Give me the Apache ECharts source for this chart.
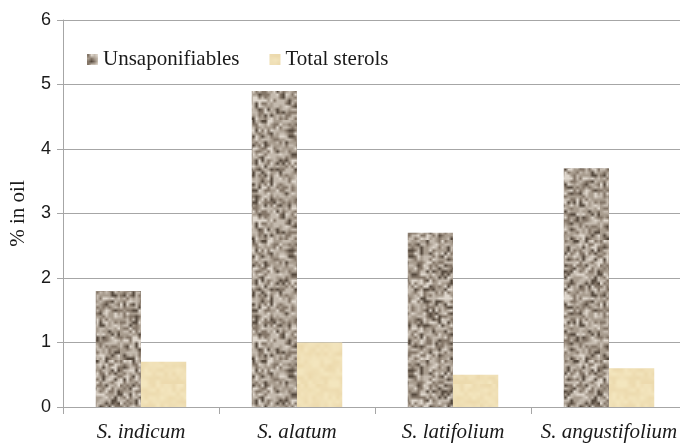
<!DOCTYPE html>
<html>
<head>
<meta charset="utf-8">
<style>
  html, body { margin: 0; padding: 0; background: #fff; }
  #chart { width: 680px; height: 443px; }
</style>
<script src="https://cdn.jsdelivr.net/npm/echarts@6/dist/echarts.min.js"></script>
</head>
<body>
<div id="chart"></div>
<script>
// Species and measured fractions (% of oil)
const species = ['S. indicum', 'S. alatum', 'S. latifolium', 'S. angustifolium'];
const unsaponifiables = [1.8, 4.9, 2.7, 3.7];
const totalSterols = [0.7, 1.0, 0.5, 0.6];
const yTicks = [0, 1, 2, 3, 4, 5, 6];

// Deterministic PRNG for the fill textures
function prng(seed) {
  let s = seed >>> 0;
  return function () {
    s = (s * 1664525 + 1013904223) >>> 0;
    return s / 4294967296;
  };
}

// Speckled granite-like tile: coarse noise drawn small, then upscaled smoothly
function graniteTile() {
  const small = 40, scale = 3;
  const src = document.createElement('canvas');
  src.width = small; src.height = small;
  const sctx = src.getContext('2d');
  const img = sctx.createImageData(small, small);
  const rnd = prng(7);
  for (let i = 0; i < small * small; i++) {
    const t = rnd();
    let r, g, b;
    if (t < 0.12) { r = 86; g = 74; b = 62; }
    else if (t < 0.32) { r = 132; g = 118; b = 104; }
    else if (t < 0.60) { r = 168; g = 156; b = 142; }
    else if (t < 0.86) { r = 196; g = 186; b = 174; }
    else { r = 222; g = 214; b = 204; }
    img.data[i * 4] = r; img.data[i * 4 + 1] = g; img.data[i * 4 + 2] = b; img.data[i * 4 + 3] = 255;
  }
  sctx.putImageData(img, 0, 0);
  const c = document.createElement('canvas');
  c.width = small * scale; c.height = small * scale;
  const ctx = c.getContext('2d');
  ctx.imageSmoothingEnabled = true;
  ctx.drawImage(src, 0, 0, c.width, c.height);
  return c;
}

// Pale parchment tile
function parchmentTile() {
  const small = 24, scale = 4;
  const src = document.createElement('canvas');
  src.width = small; src.height = small;
  const sctx = src.getContext('2d');
  const img = sctx.createImageData(small, small);
  const rnd = prng(31);
  for (let i = 0; i < small * small; i++) {
    const d = (rnd() - 0.5) * 14;
    img.data[i * 4] = 240 + d * 0.6;
    img.data[i * 4 + 1] = 224 + d;
    img.data[i * 4 + 2] = 182 + d * 1.4;
    img.data[i * 4 + 3] = 255;
  }
  sctx.putImageData(img, 0, 0);
  const c = document.createElement('canvas');
  c.width = small * scale; c.height = small * scale;
  const ctx = c.getContext('2d');
  ctx.imageSmoothingEnabled = true;
  ctx.drawImage(src, 0, 0, c.width, c.height);
  return c;
}

const chart = echarts.init(document.getElementById('chart'), null, { renderer: 'canvas' });
const axisGrey = '#a6a6a6';

chart.setOption({
  animation: false,
  backgroundColor: '#ffffff',
  grid: {
    left: 63, right: -7, top: 20, bottom: 36,
    containLabel: false,
    outerBoundsMode: 'none'
  },
  legend: {
    left: 82,
    top: 44,
    itemWidth: 11,
    itemHeight: 11,
    itemGap: 30,
    icon: 'rect',
    textStyle: { fontFamily: 'Liberation Serif', fontSize: 21, color: '#1a1a1a' },
    data: ['Unsaponifiables', 'Total sterols']
  },
  xAxis: {
    type: 'category',
    data: species,
    axisLine: { lineStyle: { color: axisGrey, width: 1 } },
    axisTick: { show: true, interval: 0, length: 7, lineStyle: { color: axisGrey } },
    axisLabel: {
      interval: 0,
      hideOverlap: false,
      margin: 15,
      fontFamily: 'Liberation Serif',
      fontStyle: 'italic',
      fontSize: 21,
      color: '#1a1a1a'
    }
  },
  yAxis: {
    type: 'value',
    min: yTicks[0],
    max: yTicks[yTicks.length - 1],
    interval: 1,
    name: '% in oil',
    nameLocation: 'middle',
    nameGap: 34,
    nameTextStyle: { fontFamily: 'Liberation Serif', fontSize: 21, color: '#1a1a1a' },
    axisLine: { show: true, lineStyle: { color: axisGrey, width: 1 } },
    axisTick: { show: true, length: 6, lineStyle: { color: axisGrey } },
    splitLine: { show: true, lineStyle: { color: axisGrey, width: 1 } },
    axisLabel: {
      margin: 12,
      fontFamily: 'Liberation Sans',
      fontSize: 18,
      color: '#1a1a1a'
    }
  },
  series: [
    {
      name: 'Unsaponifiables',
      type: 'bar',
      data: unsaponifiables,
      barGap: '0%',
      barCategoryGap: '42%',
      itemStyle: { color: { image: graniteTile(), repeat: 'repeat' } }
    },
    {
      name: 'Total sterols',
      type: 'bar',
      data: totalSterols,
      barGap: '0%',
      barCategoryGap: '42%',
      itemStyle: { color: { image: parchmentTile(), repeat: 'repeat' } }
    }
  ]
});
</script>
</body>
</html>
